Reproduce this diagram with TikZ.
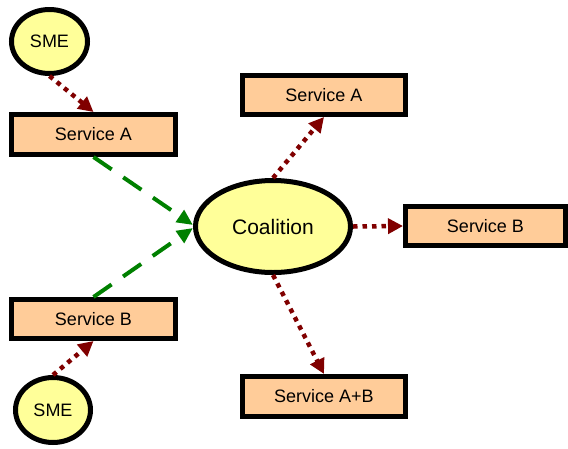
\documentclass[tikz,border=0pt]{standalone}
\usepackage{fontspec}
\setmainfont{Liberation Sans}
\usetikzlibrary{shapes.geometric,arrows.meta}
\definecolor{boxfill}{HTML}{FFCC99}
\definecolor{ellfill}{HTML}{FFFF99}
\definecolor{darkred}{HTML}{800000}
\definecolor{dgreen}{HTML}{008000}
\tikzset{
  svc/.style={rectangle, draw=black, line width=5pt, fill=boxfill, inner sep=0pt,
    font=\fontsize{18}{20}\selectfont},
  ell/.style={ellipse, draw=black, line width=5pt, fill=ellfill, inner sep=0pt},
  redarrow/.style={draw=darkred, line width=4.5pt, dash pattern=on 4.5pt off 5pt,
    -{Triangle[length=15pt,width=15pt]}},
  greenarrow/.style={draw=dgreen, line width=4pt, dash pattern=on 22pt off 14pt,
    -{Triangle[length=16pt,width=14pt]}}
}
\begin{document}
\begin{tikzpicture}[x=1pt,y=-1pt]
\useasboundingbox (0,0) rectangle (568,448);
\node[ell, minimum width=76pt, minimum height=64pt, font=\fontsize{18}{20}\selectfont] (sme1) at (49.5,41.5) {SME};
\node[ell, minimum width=75pt, minimum height=65pt, font=\fontsize{18}{20}\selectfont] (sme2) at (53,410) {SME};
\node[svc, minimum width=164pt, minimum height=40pt] (sa1) at (93.5,134.5) {Service A};
\node[svc, minimum width=164pt, minimum height=39pt] (sb1) at (93.5,319) {Service B};
\node[ell, minimum width=155pt, minimum height=92pt, font=\fontsize{21}{24}\selectfont] (coal) at (273,226.5) {Coalition};
\node[svc, minimum width=163pt, minimum height=39pt] (sa2) at (324,95) {Service A};
\node[svc, minimum width=160pt, minimum height=39pt] (sb2) at (485.5,226) {Service B};
\node[svc, minimum width=163pt, minimum height=40pt] (sab) at (324,396.5) {Service A+B};
\draw[redarrow] (sme1.south) -- (sa1.north);
\draw[redarrow] (sme2.north) -- (sb1.south);
\draw[greenarrow] (sa1.south) -- ([yshift=1.5pt]coal.west);
\draw[greenarrow] (sb1.north) -- ([yshift=-1.5pt]coal.west);
\draw[redarrow] (coal.north) -- (sa2.south);
\draw[redarrow] (coal.east) -- (sb2.west);
\draw[redarrow] (coal.south) -- (sab.north);
\end{tikzpicture}
\end{document}
